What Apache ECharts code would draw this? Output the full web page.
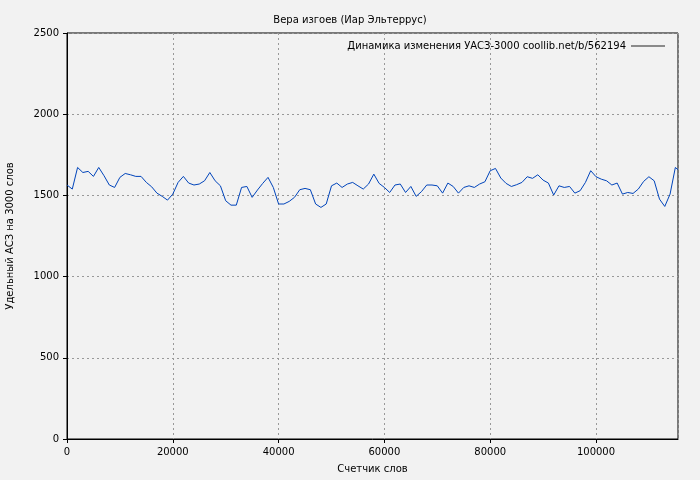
<!DOCTYPE html>
<html><head><meta charset="utf-8">
<script src="https://cdn.jsdelivr.net/npm/echarts@6/dist/echarts.min.js"></script>
<style>html,body{margin:0;background:#f2f2f2}#c{width:700px;height:480px}</style>
</head><body><div id="c"></div>
<script>
const xWords = [0,1000,2000,3000,4000,5000,6000,7000,8000,9000,10000,11000,12000,13000,14000,15000,16000,17000,18000,19000,20000,21000,22000,23000,24000,25000,26000,27000,28000,29000,30000,31000,32000,33000,34000,35000,36000,37000,38000,39000,40000,41000,42000,43000,44000,45000,46000,47000,48000,49000,50000,51000,52000,53000,54000,55000,56000,57000,58000,59000,60000,61000,62000,63000,64000,65000,66000,67000,68000,69000,70000,71000,72000,73000,74000,75000,76000,77000,78000,79000,80000,81000,82000,83000,84000,85000,86000,87000,88000,89000,90000,91000,92000,93000,94000,95000,96000,97000,98000,99000,100000,101000,102000,103000,104000,105000,106000,107000,108000,109000,110000,111000,112000,113000,114000,115000,115500];
const yValues = [1564,1539,1672,1641,1648,1617,1672,1621,1564,1549,1611,1635,1627,1617,1617,1580,1553,1514,1494,1471,1508,1580,1617,1576,1564,1570,1590,1641,1590,1559,1467,1440,1440,1549,1555,1488,1533,1574,1611,1549,1447,1447,1463,1488,1535,1543,1535,1447,1426,1447,1559,1576,1549,1570,1580,1559,1539,1570,1631,1574,1549,1518,1564,1570,1518,1555,1494,1523,1564,1564,1559,1514,1576,1555,1514,1549,1559,1549,1570,1584,1652,1666,1607,1574,1555,1566,1580,1615,1605,1627,1594,1576,1502,1559,1549,1555,1514,1529,1580,1652,1615,1600,1590,1564,1576,1508,1518,1512,1539,1586,1615,1590,1477,1432,1508,1672,1658];
const seriesName = 'Динамика изменения УАСЗ-3000 coollib.net/b/562194';
const chart = echarts.init(document.getElementById('c'));
const F = 'DejaVu Sans';
const split = {show:true,lineStyle:{color:'#999',type:[2,3],width:1}};
chart.setOption({
  backgroundColor:'#f2f2f2',
  animation:false,
  textStyle:{fontFamily:F},
  title:{text:'Вера изгоев (Иар Эльтеррус)',left:'center',top:10,textStyle:{fontSize:10,fontWeight:'normal',color:'#000',fontFamily:F}},
  legend:{right:30,top:36,itemWidth:34,itemHeight:1,itemGap:6,align:'right',
    textStyle:{fontSize:10,color:'#000',fontFamily:F},data:[{name:seriesName,icon:'rect',itemStyle:{color:'#222'}}]},
  grid:{left:67,right:22,top:33,bottom:41,outerBoundsMode:'none',containLabel:false,show:true,borderColor:'#000',borderWidth:1},
  xAxis:{type:'value',min:0,max:115500,interval:20000,name:'Счетчик слов',nameLocation:'middle',nameGap:25,
    nameTextStyle:{fontSize:10,color:'#000'},
    axisLine:{lineStyle:{color:'#000'}},axisTick:{inside:false,length:4,lineStyle:{color:'#000'}},
    axisLabel:{fontSize:10,color:'#000',showMaxLabel:false,formatter:v=>String(v)},splitLine:split},
  yAxis:{type:'value',min:0,max:2500,interval:500,name:'Удельный АСЗ на 3000 слов',nameLocation:'middle',nameGap:52,
    nameTextStyle:{fontSize:10,color:'#000'},
    axisLine:{show:true,lineStyle:{color:'#000'}},axisTick:{show:true,length:4,lineStyle:{color:'#000'}},
    axisLabel:{fontSize:10,color:'#000',formatter:v=>String(v)},splitLine:split},
  series:[{name:seriesName,type:'line',data:xWords.map((x,i)=>[x,yValues[i]]),showSymbol:false,
    lineStyle:{color:'#0044bb',width:1},itemStyle:{color:'#0044bb'}}]
});
</script></body></html>
